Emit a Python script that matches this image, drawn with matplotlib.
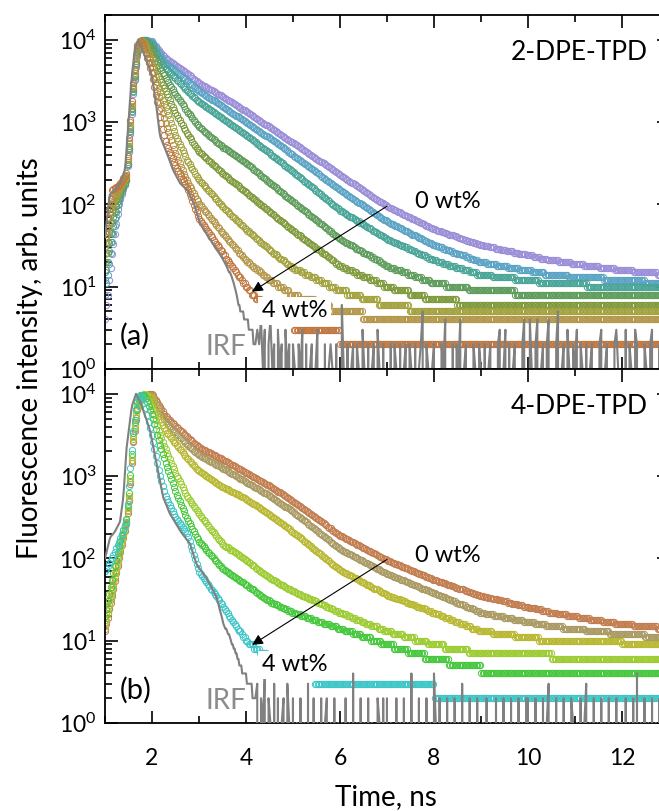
"""Time-resolved fluorescence decays of 2-DPE-TPD and 4-DPE-TPD films
at increasing dopant load (0 -> 4 wt%), plotted against the IRF.

Output: out.png
"""
import numpy as np
import matplotlib
matplotlib.use("Agg")
import matplotlib.pyplot as plt
from matplotlib.ticker import LogLocator, MultipleLocator, NullFormatter

plt.rcParams["font.family"] = ["Lato", "DejaVu Sans"]
plt.rcParams["mathtext.fontset"] = "custom"
plt.rcParams["mathtext.rm"] = "Lato"

T_KNOTS = [1.0, 1.15, 1.3, 1.45, 1.52, 1.6, 1.68, 1.76, 1.85, 2.0, 2.15, 2.3, 2.5,
           2.75, 3.0, 3.5, 4.0, 4.5, 5.0, 6.0, 7.0, 8.0, 9.0, 10.5, 12.0, 13.0]

# ---- (a) 2-DPE-TPD, 0 wt% first, 4 wt% last ----
dpe2_c1 = [4, 25, 100, 200, 500, 2200, 6000, 9300, 10000, 9600, 7300, 6000, 4900,
           3900, 3000, 2050, 1350, 870, 560, 230, 95, 50, 32, 21, 16, 14]
dpe2_c2 = [8, 35, 110, 200, 520, 2300, 6300, 9500, 10000, 9300, 6800, 5200, 4200,
           3200, 2400, 1550, 1000, 640, 400, 150, 62, 32, 20, 14, 12, 11]
dpe2_c3 = [12, 45, 120, 200, 540, 2400, 6500, 9700, 10000, 8800, 6000, 4500, 3400,
           2400, 1750, 1100, 700, 420, 250, 85, 38, 21, 14, 11, 10, 10]
dpe2_c4 = [15, 60, 130, 200, 560, 2500, 6800, 9800, 9800, 7800, 4800, 3400, 2200,
           1350, 880, 500, 320, 185, 108, 38, 18, 11, 9, 8, 8, 8]
dpe2_c5 = [20, 80, 140, 210, 600, 2600, 7000, 10000, 9500, 6500, 3500, 2300, 1300,
           720, 440, 240, 140, 82, 48, 18, 10, 7, 6, 6, 6, 6]
dpe2_c6 = [25, 100, 150, 220, 650, 2700, 7500, 10000, 9000, 5200, 2500, 1450, 700,
           340, 200, 95, 50, 28, 17, 9, 6, 5, 5, 5, 5, 5]
dpe2_c7 = [30, 120, 160, 230, 700, 2800, 8000, 10000, 8500, 4500, 1900, 920, 420,
           190, 104, 45, 21, 12, 8, 5, 4, 4, 4, 4, 4, 4]
dpe2_c8 = [40, 150, 170, 240, 750, 3000, 8500, 10000, 7500, 3800, 1300, 560, 300,
           160, 68, 26, 10, 5, 3.5, 2.5, 2, 2, 2, 2, 2, 2]
dpe2_colors = ["#9b8ed8", "#5aa3c4", "#48a597", "#5e9c5c", "#7f9a3c", "#a2a23e",
               "#b3974a", "#c0763f"]

irf2_t = [1.0, 1.1, 1.2, 1.32, 1.43, 1.5, 1.57, 1.64, 1.71, 1.8, 1.9, 2.0, 2.1, 2.17,
          2.31, 2.45, 2.6, 2.75, 2.9, 3.02, 3.2, 3.38, 3.55, 3.7, 3.87, 4.05, 4.2]
irf2_n = [40, 130, 150, 180, 270, 1000, 3600, 8000, 10000, 7500, 5300, 3600, 1450, 680,
          430, 260, 180, 150, 100, 60, 40, 28, 20, 13, 5.5, 3.5, 2]
# IRF tail counts, one digit per 0.04 ns channel from 4.24 ns
irf2_tail = ("3241302412031203120"
             "2102130201201301020121020" "0610201202103102012031020"
             "1020210201202102012502101" "2010214010202140120102102"
             "1020120102301302012010240" "0410240120240102501203102"
             "1302102012010230120102310" "1030210320102102301020120")

# ---- (b) 4-DPE-TPD, 0 wt% first, 4 wt% last ----
dpe4_c1 = [13, 35, 100, 260, 550, 2600, 6000, 8500, 9700, 10000, 7200, 5300, 4100,
           3000, 2250, 1600, 1100, 760, 500, 190, 95, 55, 35, 22, 16, 14]
dpe4_c2 = [14, 38, 105, 270, 570, 2700, 6200, 8700, 9800, 9600, 6500, 4500, 3400,
           2400, 1800, 1250, 850, 580, 370, 130, 65, 38, 22, 15, 12, 11]
dpe4_c3 = [15, 40, 110, 280, 600, 2800, 6500, 9000, 9900, 9000, 5200, 3500, 2500,
           1650, 1150, 740, 530, 340, 210, 72, 36, 22, 13, 10, 9.5, 9]
dpe4_c4 = [18, 45, 120, 290, 650, 3000, 7000, 9500, 10000, 7000, 3400, 2050, 1100,
           560, 350, 150, 95, 58, 40, 22, 13, 9, 7, 6.5, 6.5, 6]
dpe4_c5 = [20, 55, 140, 300, 700, 3300, 7800, 9800, 9500, 5500, 2600, 1400, 650,
           300, 163, 75, 48, 30, 22, 14, 9, 6, 4.5, 4, 4, 4]
dpe4_c6 = [70, 100, 160, 280, 900, 3500, 8000, 10000, 7500, 3000, 1100, 550, 320,
           200, 70, 27, 10, 6, 4, 3, 3, 2.5, 2.5, 2.5, 2.5, 2.5]
dpe4_colors = ["#c27c4e", "#a99a62", "#b8b832", "#9ccc32", "#45c83c", "#3cc6c8"]

irf4_t = [1.0, 1.11, 1.21, 1.32, 1.39, 1.46, 1.57, 1.66, 1.75, 1.85, 1.96, 2.1, 2.24,
          2.38, 2.6, 2.81, 2.95, 3.16, 3.38, 3.52, 3.66, 3.87, 4.05, 4.2]
irf4_n = [100, 180, 210, 280, 550, 2200, 7000, 10000, 8000, 5500, 3550, 1400, 550,
          350, 215, 150, 84, 58, 33, 16, 11, 5, 3.2, 2]
irf4_tail = ("3021402103020120310"
             "2010201030020102012010201" "0102010401020102010021020"
             "2010020102010401020102010" "4102010201020103010201020"
             "0102010020102010201020102" "2010201020130102010201021"
             "0102013010201020102010201" "1020102040102010201020102")

CHANNEL = 0.03     # ns per TCSPC channel for the sample decays
TAIL_START = 4.24
TAIL_STEP = 0.04

IRF_GRAY = "#808080"


def decay_channels(counts):
    t = np.arange(T_KNOTS[0], T_KNOTS[-1], CHANNEL)
    n = np.rint(10 ** np.interp(t, T_KNOTS, np.log10(counts)))
    return t, n


def irf_trace(knot_t, knot_n, tail):
    tb = np.arange(knot_t[0], knot_t[-1] + 1e-9, 0.02)
    nb = np.rint(10 ** np.interp(tb, knot_t, np.log10(knot_n)))
    nt = np.array([int(c) for c in tail], dtype=float)
    tt = TAIL_START + TAIL_STEP * np.arange(len(nt))
    return np.concatenate([tb, tt]), np.concatenate([nb, nt])


def style_axis(ax):
    ax.set_xlim(1, 13)
    ax.set_yscale("log")
    ax.set_ylim(1, 2e4)
    ax.xaxis.set_major_locator(MultipleLocator(2))
    ax.xaxis.set_minor_locator(MultipleLocator(1))
    ax.yaxis.set_major_locator(LogLocator(base=10, numticks=10))
    ax.yaxis.set_minor_locator(LogLocator(base=10, subs=np.arange(2, 10), numticks=10))
    ax.yaxis.set_minor_formatter(NullFormatter())
    ax.tick_params(which="both", direction="in", top=True, right=True, width=1.2)
    ax.tick_params(which="major", length=9)
    ax.tick_params(which="minor", length=5)
    ax.tick_params(axis="y", pad=6, labelsize=16.5)
    ax.tick_params(axis="x", pad=18, labelsize=16.5)
    for s in ax.spines.values():
        s.set_linewidth(1.3)


def draw_panel(ax, curves, colors, irf, name, tag, arrow_from, arrow_to):
    for counts, col in zip(curves, colors):
        t, n = decay_channels(counts)
        ax.plot(t, n, ls="none", marker="o", ms=4.5, mfc="none", mec=col, mew=0.7,
                zorder=2)
    t_irf, n_irf = irf
    ax.plot(t_irf, n_irf, color=IRF_GRAY, lw=1.5, zorder=4)

    style_axis(ax)
    ax.text(12.55, 10 ** 3.85, name, ha="right", va="center", fontsize=19, zorder=6)
    ax.text(1.32, 10 ** 0.40, tag, ha="left", va="center", fontsize=21, zorder=6)
    ax.text(3.13, 10 ** 0.27, "IRF", ha="left", va="center", fontsize=20,
            color="#8c8c8c", zorder=6)
    ax.text(7.6, 10 ** 2.03, "0 wt%", ha="left", va="center", fontsize=17, zorder=6)
    ax.text(4.34, 10 ** 0.71, "4 wt%", ha="left", va="center", fontsize=17, zorder=6,
            bbox=dict(boxstyle="square,pad=0.15", facecolor="white", edgecolor="none"))
    ax.annotate("", xy=arrow_to, xytext=arrow_from, zorder=6,
                arrowprops=dict(arrowstyle="-|>", color="black", lw=0.8,
                                mutation_scale=16, shrinkA=0, shrinkB=0))


fig = plt.figure(figsize=(6.59, 8.11), dpi=100)
ax_a = fig.add_axes([0.1593, 0.545, 0.8558, 0.4365])
ax_b = fig.add_axes([0.1593, 0.1085, 0.8558, 0.4365])

draw_panel(ax_a, [dpe2_c1, dpe2_c2, dpe2_c3, dpe2_c4, dpe2_c5, dpe2_c6, dpe2_c7, dpe2_c8],
           dpe2_colors, irf_trace(irf2_t, irf2_n, irf2_tail), "2-DPE-TPD", "(a)",
           (7.0, 95), (4.13, 8.7))
draw_panel(ax_b, [dpe4_c1, dpe4_c2, dpe4_c3, dpe4_c4, dpe4_c5, dpe4_c6],
           dpe4_colors, irf_trace(irf4_t, irf4_n, irf4_tail), "4-DPE-TPD", "(b)",
           (7.0, 97), (4.13, 8.9))
ax_a.tick_params(axis="x", labelbottom=False)

fig.text(0.046, 0.559, "Fluorescence intensity, arb. units", rotation=90,
         ha="center", va="center", fontsize=20)
fig.text(0.586, 0.017, "Time, ns", ha="center", va="center", fontsize=20)

fig.savefig("out.png", dpi=100)
